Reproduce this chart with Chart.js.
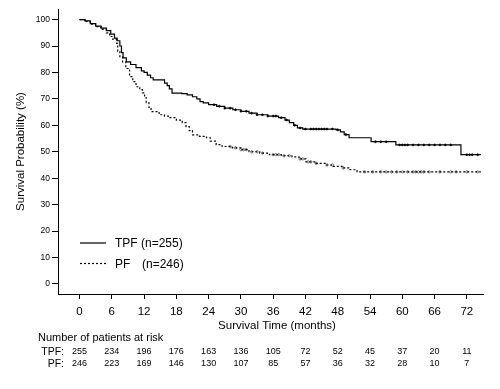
<!DOCTYPE html>
<html>
<head>
<meta charset="utf-8">
<script src="https://cdn.jsdelivr.net/npm/chart.js@4"></script>
<style>
  html, body { margin: 0; padding: 0; background: #fff; }
  #wrap { width: 500px; height: 389px; }
</style>
</head>
<body>
<div id="wrap"><canvas id="km" width="500" height="389"></canvas></div>
<script>
// Data
const xTicks = [0, 6, 12, 18, 24, 30, 36, 42, 48, 54, 60, 66, 72];
const yTicks = [0, 10, 20, 30, 40, 50, 60, 70, 80, 90, 100];

const tpfTime = [0, 1, 2, 3, 4, 5, 5.8, 6.5, 7, 7.5, 7.8, 8.1, 8.7, 9.5, 10.5, 11.5, 12, 12.6, 13.2, 13.7, 15.8, 16.3, 16.7, 17.2, 19, 20, 21, 21.8, 22.4, 23, 24, 25.5, 27, 28.5, 30, 31.5, 33, 35, 37, 38.2, 39, 39.8, 40.5, 41.5, 47.7, 48.5, 49.2, 50.1, 54.2, 58.8, 70.9, 74.6];
const tpfSurv = [100, 99.5, 98.5, 97.5, 96.8, 95.8, 94.5, 93, 92, 90, 87.5, 85.5, 84, 83, 81.8, 80.6, 80, 79, 78, 77.2, 76, 75, 73.8, 72.2, 72, 71.5, 70.8, 70, 69, 68.5, 67.8, 67.2, 66.5, 65.9, 65.3, 64.6, 64, 63.5, 62.9, 62, 61, 60, 59, 58.6, 58.3, 57.5, 56.5, 55.3, 53.8, 52.6, 48.9, 48.9];

const pfTime = [0, 1, 2, 3, 4, 5, 5.6, 6.2, 6.9, 7.1, 7.5, 8, 8.6, 9.3, 9.9, 10.5, 11.2, 11.7, 12.1, 12.4, 12.9, 13.3, 14.8, 15.8, 16.7, 18, 19.1, 19.8, 20.4, 21, 22.3, 23.6, 24.3, 25.4, 26.5, 28.4, 30, 31.5, 33.5, 35.3, 37.5, 39.5, 40.8, 42.1, 44, 45.8, 47.2, 48.8, 50.3, 51.6, 74.6];
const pfSurv = [100, 99.3, 98.3, 97.3, 96.3, 95, 93.6, 92.5, 91, 88, 86, 84, 81.5, 78.4, 76.5, 74.6, 73.5, 72.3, 70.5, 68.6, 66.8, 65.2, 64, 63.5, 62.9, 62, 61, 59.5, 58, 56.4, 55.8, 55.3, 54, 52.7, 52, 51.5, 50.8, 50, 49.5, 48.9, 48.5, 48.1, 47.3, 46.2, 45.6, 45, 44.5, 43.9, 43.2, 42.4, 42.4];

// censored observations (months)
const tpfCensor = [25, 26, 27, 28, 29, 30, 31, 32, 33, 34, 35, 36, 36.5, 37.5, 38.5, 40, 41, 42, 43, 43.5, 44, 44.5, 45, 45.5, 46, 47, 48, 49.5, 55, 56, 57, 59.5, 60, 60.5, 61, 62, 63, 64, 65, 66, 67, 68, 69, 72, 72.5, 73, 74];
const pfCensor = [28, 29, 30, 30.5, 31, 32, 33, 34, 36, 36.5, 37, 38, 39, 41, 41.5, 42.5, 43, 44, 46, 47, 49, 53, 54.5, 56, 57, 58, 59, 60, 61, 62, 62.5, 63, 63.5, 64, 65, 67, 69, 70, 72, 74];

const riskTPF = [255, 234, 196, 176, 163, 136, 105, 72, 52, 45, 37, 20, 11];
const riskPF = [246, 223, 169, 146, 130, 107, 85, 57, 36, 32, 28, 10, 7];

// KM value at time t (step function)
function survAt(times, surv, t) {
    let v = surv[0];
    for (let i = 0; i < times.length; i++) { if (times[i] <= t) v = surv[i]; }
    return v;
}

const pts = (times, surv) => times.map((t, i) => ({ x: t, y: surv[i] }));
const censorPts = (ct, times, surv) => ct.map(t => ({ x: t, y: survAt(times, surv, t) }));

const FONT = "'Liberation Sans', Arial, sans-serif";

const extras = {
    id: 'extras',
    afterDraw(chart) {
        const ctx = chart.ctx;
        const xs = chart.scales.x;
        ctx.save();
        ctx.fillStyle = '#000';
        ctx.strokeStyle = '#000';

        // x axis title
        ctx.font = '11.5px ' + FONT;
        ctx.textAlign = 'center';
        ctx.textBaseline = 'middle';
        ctx.fillText('Survival Time (months)', 277, 326);

        // legend inside plot
        ctx.lineWidth = 1.2;
        ctx.beginPath(); ctx.moveTo(80, 243); ctx.lineTo(106, 243); ctx.stroke();
        ctx.setLineDash([2, 2]);
        ctx.beginPath(); ctx.moveTo(80, 263.5); ctx.lineTo(106, 263.5); ctx.stroke();
        ctx.setLineDash([]);
        ctx.font = '12px ' + FONT;
        ctx.textAlign = 'left';
        ctx.fillText('TPF (n=255)', 115, 244);
        ctx.fillText('PF', 115, 264.5);
        ctx.fillText('(n=246)', 142, 264.5);

        // number at risk table
        ctx.font = '11px ' + FONT;
        ctx.fillText('Number of patients at risk', 38, 338);
        ctx.textAlign = 'right';
        ctx.font = '10.5px ' + FONT;
        ctx.fillText('TPF:', 64, 352);
        ctx.fillText('PF:', 64, 364);
        ctx.textAlign = 'center';
        ctx.font = '9px ' + FONT;
        xTicks.forEach((t, i) => {
            const px = xs.getPixelForValue(t);
            ctx.fillText(String(riskTPF[i]), px, 352);
            ctx.fillText(String(riskPF[i]), px, 364);
        });
        ctx.restore();
    }
};

new Chart(document.getElementById('km'), {
    type: 'scatter',
    data: {
        datasets: [
            { label: 'TPF', data: pts(tpfTime, tpfSurv), showLine: true, stepped: 'before', borderColor: '#000', borderWidth: 1.2, pointRadius: 0, fill: false },
            { label: 'PF', data: pts(pfTime, pfSurv), showLine: true, stepped: 'before', borderColor: '#000', borderWidth: 1.2, borderDash: [2, 2], pointRadius: 0, fill: false },
            { label: 'TPF censored', data: censorPts(tpfCensor, tpfTime, tpfSurv), pointStyle: 'circle', pointRadius: 1, borderWidth: 0.6, borderColor: '#000', backgroundColor: '#000' },
            { label: 'PF censored', data: censorPts(pfCensor, pfTime, pfSurv), pointStyle: 'circle', pointRadius: 1.2, borderWidth: 0.6, borderColor: '#333', backgroundColor: '#fff' }
        ]
    },
    options: {
        responsive: false,
        animation: false,
        devicePixelRatio: 1,
        layout: { padding: { top: 9, right: 17, left: 0, bottom: 0 } },
        plugins: { legend: { display: false }, tooltip: { enabled: false } },
        scales: {
            x: {
                type: 'linear', min: -4, max: 75,
                afterBuildTicks: axis => { axis.ticks = xTicks.map(v => ({ value: v })); },
                afterFit: axis => { axis.height = 95; },
                grid: { drawOnChartArea: false, drawTicks: true, tickLength: 5, color: '#000' },
                border: { color: '#000', width: 1 },
                ticks: { color: '#000', font: { family: FONT, size: 11.5 }, padding: 6, maxRotation: 0 }
            },
            y: {
                type: 'linear', min: -3.8, max: 104,
                afterBuildTicks: axis => { axis.ticks = yTicks.map(v => ({ value: v })); },
                afterFit: axis => { axis.width = 58; },
                grid: { drawOnChartArea: false, drawTicks: true, tickLength: 6, color: '#000' },
                border: { color: '#000', width: 1 },
                ticks: { color: '#000', font: { family: FONT, size: 8.5 }, padding: 2 },
                title: { display: true, text: 'Survival Probability (%)', color: '#000', font: { family: FONT, size: 11.5 }, padding: { top: 14, bottom: 0 } }
            }
        }
    },
    plugins: [extras]
});
</script>
</body>
</html>
